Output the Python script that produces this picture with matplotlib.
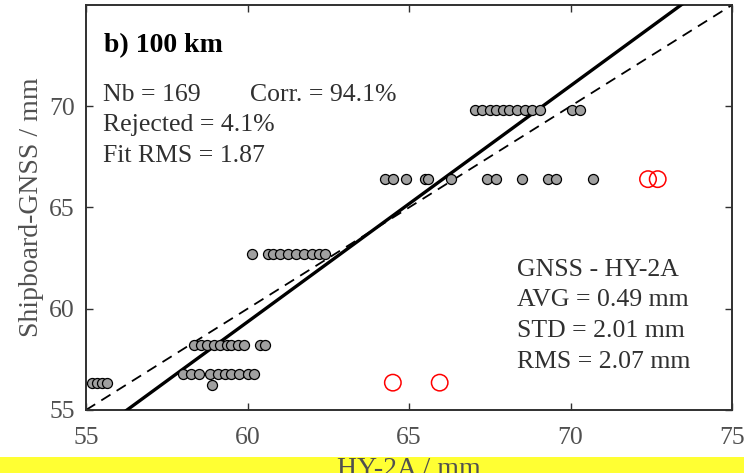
import numpy as np
import matplotlib.pyplot as plt
from matplotlib.patches import Rectangle

# accepted pairs (HY-2A, Shipboard-GNSS)
hy2a = [55.2, 55.35, 55.5, 55.65,
        58.0, 58.25, 58.5, 58.85, 59.1, 59.3, 59.5, 59.75, 60.0, 60.2,
        58.9,
        58.35, 58.55, 58.75, 58.95, 59.15, 59.35, 59.5, 59.7, 59.9, 60.4, 60.55,
        60.15, 60.65, 60.8, 61.0, 61.25, 61.5, 61.75, 62.0, 62.2, 62.4,
        64.25, 64.5, 64.9, 65.5, 65.6, 66.3, 67.4, 67.7, 68.5, 69.3, 69.55, 70.7,
        67.05, 67.25, 67.5, 67.7, 67.9, 68.1, 68.35, 68.6, 68.8, 69.05, 70.05, 70.3]
gnss = [56.35, 56.35, 56.35, 56.35,
        56.8, 56.8, 56.8, 56.8, 56.8, 56.8, 56.8, 56.8, 56.8, 56.8,
        56.25,
        58.2, 58.2, 58.2, 58.2, 58.2, 58.2, 58.2, 58.2, 58.2, 58.2, 58.2,
        62.7, 62.7, 62.7, 62.7, 62.7, 62.7, 62.7, 62.7, 62.7, 62.7,
        66.4, 66.4, 66.4, 66.4, 66.4, 66.4, 66.4, 66.4, 66.4, 66.4, 66.4, 66.4,
        69.8, 69.8, 69.8, 69.8, 69.8, 69.8, 69.8, 69.8, 69.8, 69.8, 69.8, 69.8]

# rejected points (red circles)
rej_hy2a = [64.5, 65.95, 72.4, 72.7]
rej_gnss = [56.35, 56.35, 66.4, 66.4]

# linear fit y = a*x + b
fit_a = 1.166
fit_b = -10.61

stats_left = ["Nb = 169", "Rejected = 4.1%", "Fit RMS = 1.87"]
corr_text = "Corr. = 94.1%"
stats_right = ["GNSS - HY-2A", "AVG = 0.49 mm", "STD = 2.01 mm", "RMS = 2.07 mm"]
title = "b) 100 km"

XLIM = (55, 75)
YLIM = (55, 75)
xticks = [55, 60, 65, 70, 75]
yticks = [55, 60, 65, 70]

plt.rcParams['font.family'] = ['Liberation Serif', 'DejaVu Serif']

fig = plt.figure(figsize=(7.44, 4.73), dpi=100)
# yellow strip at the bottom of the screenshot (behind the x label)
fig.patches.append(Rectangle((0, 0), 1, 16 / 473, transform=fig.transFigure,
                             facecolor='#ffff33', edgecolor='none', zorder=-1))
ax = fig.add_axes([86 / 744, 63 / 473, 646 / 744, 405 / 473])

xs = np.array(XLIM, dtype=float)
ax.plot(xs, xs, ls=(0, (6, 4)), color='black', lw=1.3, zorder=2)
ax.plot(xs, fit_a * xs + fit_b, color='black', lw=2.4, zorder=3)

ax.scatter(hy2a, gnss, s=52, facecolor='#a0a0a0', edgecolor='black',
           linewidth=0.9, zorder=4)
ax.scatter(rej_hy2a, rej_gnss, s=140, facecolor='none', edgecolor='red',
           linewidth=1.1, zorder=4)

ax.set_xlim(*XLIM)
ax.set_ylim(*YLIM)
ax.set_xticks(xticks)
ax.set_yticks(yticks)
ax.tick_params(direction='in', length=5, width=1, top=True, right=True,
               labelsize=18.5, labelcolor='#505050', colors='#303030')
ax.tick_params(axis='x', pad=12)
ax.tick_params(axis='y', pad=8)
for sp in ax.spines.values():
    sp.set_linewidth(1.4)
    sp.set_color('#303030')

ax.set_ylabel("Shipboard-GNSS / mm", fontsize=20, color='#505050', labelpad=4)
ax.set_xlabel("HY-2A / mm", fontsize=20, color='#505050', labelpad=6)

ax.text(0.028, 0.90, title, transform=ax.transAxes, fontsize=20,
        fontweight='bold', va='center', ha='left')
for i, s in enumerate(stats_left):
    ax.text(0.026, 0.778 - i * 0.0755, s, transform=ax.transAxes,
            fontsize=18.5, color='#303030', va='center', ha='left')
ax.text(0.254, 0.778, corr_text, transform=ax.transAxes, fontsize=18.5,
        color='#303030', va='center', ha='left')
for i, s in enumerate(stats_right):
    ax.text(0.667, 0.346 - i * 0.0755, s, transform=ax.transAxes,
            fontsize=18.5, color='#303030', va='center', ha='left')

fig.savefig("out.png", dpi=100)
